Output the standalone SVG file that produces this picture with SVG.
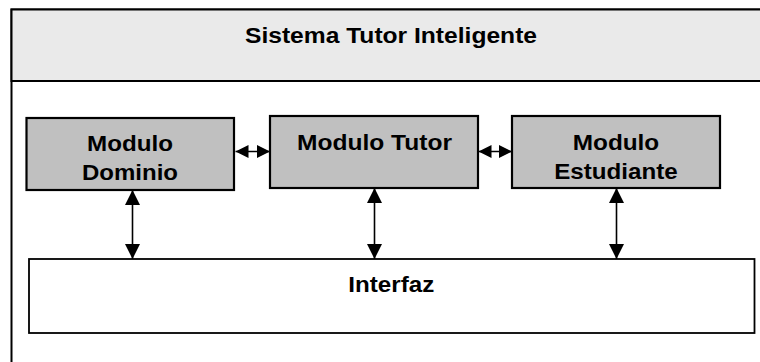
<svg xmlns="http://www.w3.org/2000/svg" width="760" height="362" viewBox="0 0 760 362">
  <style>
    .lbl { font-family: "Liberation Sans", Arial, sans-serif; font-weight: bold; font-size: 22px; fill: #000; text-anchor: middle; }
    .mod { fill: #c0c0c0; stroke: #000; stroke-width: 2.2; }
    .conn { stroke: #000; stroke-width: 1.6; fill: none; }
  </style>
  <defs>
    <marker id="big" markerUnits="userSpaceOnUse" markerWidth="15" markerHeight="15" viewBox="0 0 15 15" refX="15" refY="7.5" orient="auto-start-reverse">
      <path d="M0,0 L15,7.5 L0,15 z" fill="#000"/>
    </marker>
    <marker id="small" markerUnits="userSpaceOnUse" markerWidth="13" markerHeight="13" viewBox="0 0 13 13" refX="13" refY="6.5" orient="auto-start-reverse">
      <path d="M0,0 L13,6.5 L0,13 z" fill="#000"/>
    </marker>
  </defs>
  <rect width="760" height="362" fill="#fff"/>

  <g id="frame">
    <rect x="11.5" y="9.5" width="800" height="420" fill="#fff" stroke="#000" stroke-width="2"/>
    <rect x="11.5" y="9.5" width="800" height="71.5" fill="#eaeaea" stroke="#000" stroke-width="2"/>
    <text class="lbl" x="391" y="42.5" textLength="292" lengthAdjust="spacingAndGlyphs">Sistema Tutor Inteligente</text>
  </g>

  <g id="connectors">
    <line class="conn" x1="235.5" y1="151.5" x2="270" y2="151.5" marker-start="url(#small)" marker-end="url(#small)"/>
    <line class="conn" x1="478.5" y1="151.5" x2="512" y2="151.5" marker-start="url(#small)" marker-end="url(#small)"/>
    <line class="conn" x1="132.5" y1="190" x2="132.5" y2="259" marker-start="url(#big)" marker-end="url(#big)"/>
    <line class="conn" x1="374.5" y1="188" x2="374.5" y2="259" marker-start="url(#big)" marker-end="url(#big)"/>
    <line class="conn" x1="616.5" y1="188" x2="616.5" y2="259" marker-start="url(#big)" marker-end="url(#big)"/>
  </g>

  <g id="modulo-dominio">
    <rect class="mod" x="26.5" y="118" width="207.5" height="72"/>
    <text class="lbl" x="130" y="151" textLength="86" lengthAdjust="spacingAndGlyphs">Modulo</text>
    <text class="lbl" x="130" y="180" textLength="96" lengthAdjust="spacingAndGlyphs">Dominio</text>
  </g>

  <g id="modulo-tutor">
    <rect class="mod" x="270" y="116" width="208" height="72"/>
    <text class="lbl" x="374.5" y="150" textLength="155" lengthAdjust="spacingAndGlyphs">Modulo Tutor</text>
  </g>

  <g id="modulo-estudiante">
    <rect class="mod" x="512" y="116" width="208" height="72"/>
    <text class="lbl" x="616" y="150" textLength="86.5" lengthAdjust="spacingAndGlyphs">Modulo</text>
    <text class="lbl" x="616" y="178.5" textLength="123.5" lengthAdjust="spacingAndGlyphs">Estudiante</text>
  </g>

  <g id="interfaz">
    <rect x="29" y="259" width="725.5" height="74" fill="#fff" stroke="#000" stroke-width="1.8"/>
    <text class="lbl" x="391.3" y="292.3" textLength="86" lengthAdjust="spacingAndGlyphs">Interfaz</text>
  </g>
</svg>
